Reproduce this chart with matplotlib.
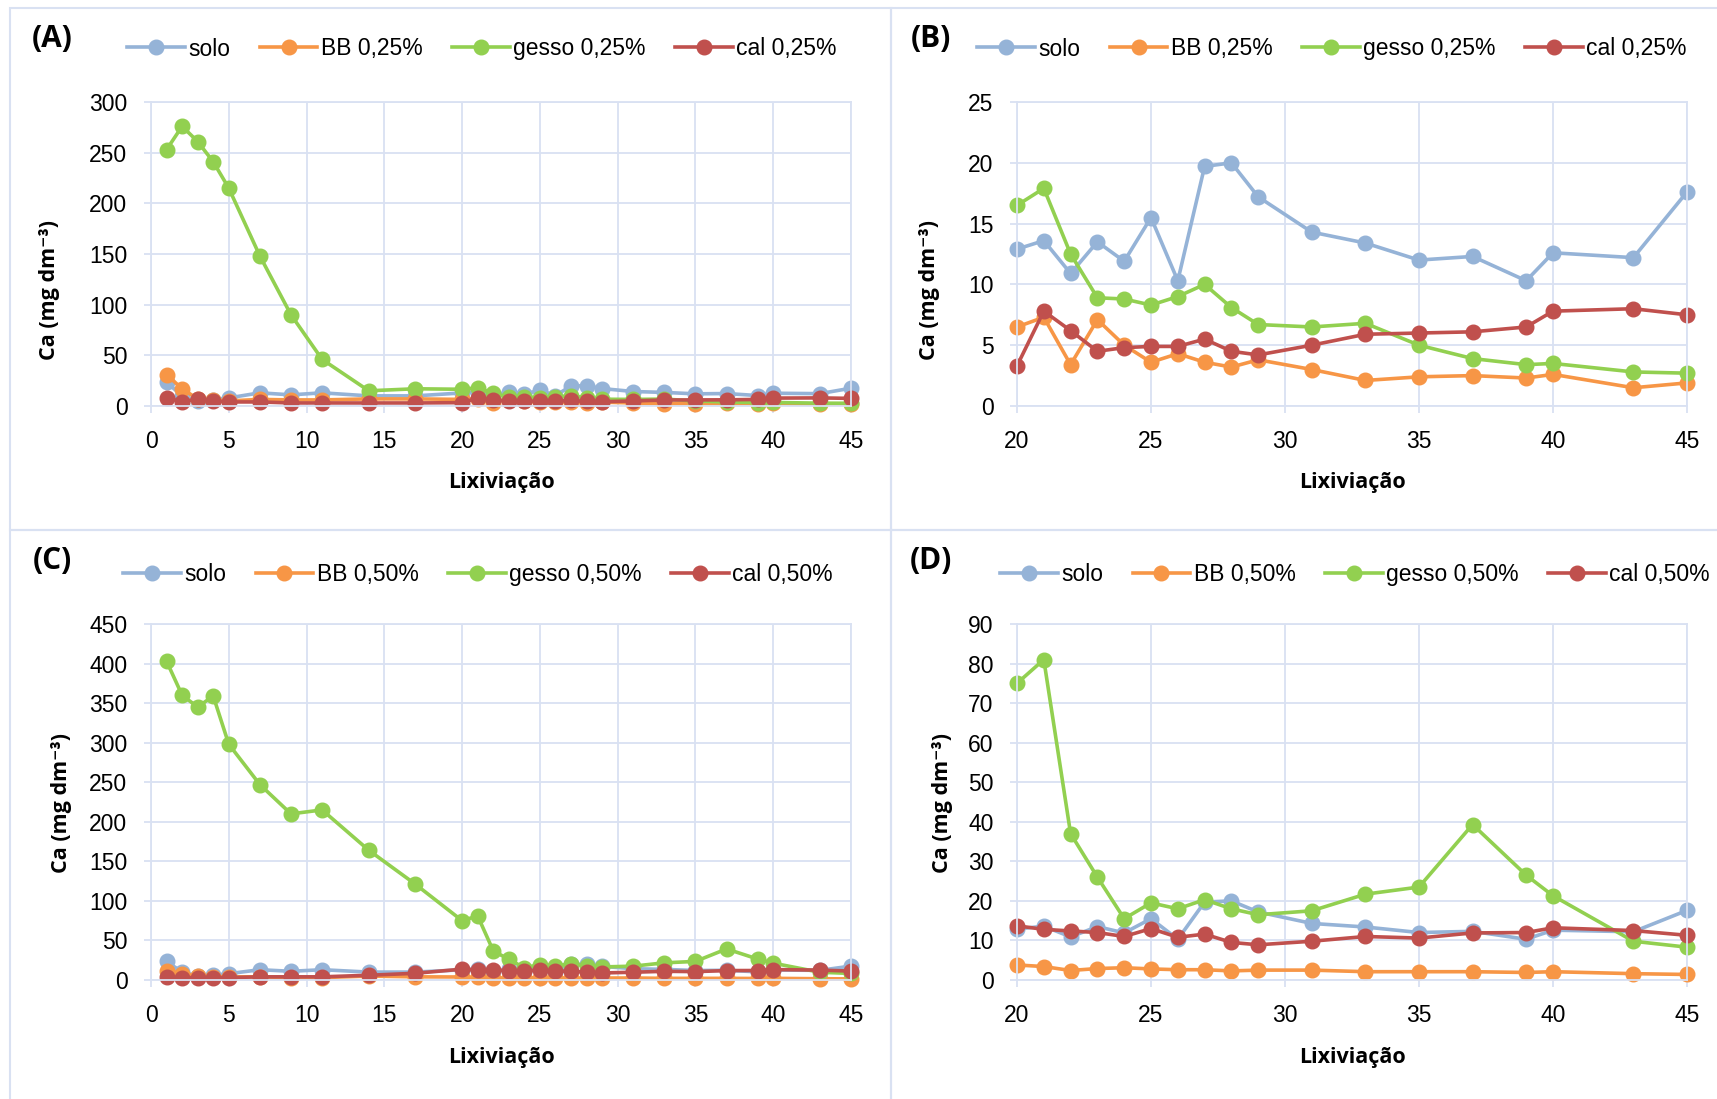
import matplotlib
matplotlib.use("Agg")
import matplotlib.pyplot as plt
from matplotlib import font_manager
from matplotlib.patches import Rectangle

# leaching events
lix = [1, 2, 3, 4, 5, 7, 9, 11, 14, 17, 20, 21, 22, 23, 24, 25, 26, 27, 28, 29,
       31, 33, 35, 37, 39, 40, 43, 45]

solo = [23.5, 10, 5, 6, 8, 13, 11, 13, 10, 10, 12.9, 13.6, 10.9, 13.5, 11.9, 15.5,
        10.3, 19.7, 20.0, 17.2, 14.3, 13.4, 12.0, 12.3, 10.3, 12.6, 12.2, 17.6]

# 0,25 %
bb_25 = [31, 17, 7, 6, 5, 6.5, 6, 6, 7, 7, 6.5, 7.3, 3.4, 7.1, 5.0, 3.6, 4.3, 3.6,
         3.2, 3.8, 3.0, 2.1, 2.4, 2.5, 2.3, 2.6, 1.5, 1.9]
gesso_25 = [253, 276, 261, 241, 215, 148, 90, 46, 15, 17, 16.5, 17.9, 12.5, 8.9, 8.8,
            8.3, 9.0, 10.0, 8.1, 6.7, 6.5, 6.8, 5.0, 3.9, 3.4, 3.5, 2.8, 2.7]
cal_25 = [8.2, 4, 7, 5, 4, 4, 3, 3, 3, 3, 3.3, 7.8, 6.2, 4.5, 4.8, 4.9, 4.9, 5.5,
          4.5, 4.2, 5.0, 5.9, 6.0, 6.1, 6.5, 7.8, 8.0, 7.5]

# 0,50 %
bb_50 = [12, 8, 5, 4, 4, 4, 3, 3, 5, 4, 3.8, 3.4, 2.4, 2.9, 3.1, 2.8, 2.6, 2.6,
         2.3, 2.5, 2.5, 2.1, 2.1, 2.1, 1.9, 2.1, 1.6, 1.4]
gesso_50 = [403, 360, 345, 359, 298, 247, 210, 215, 164, 121, 75, 81, 37, 26, 15.5,
            19.5, 18, 20.3, 18, 16.5, 17.5, 21.7, 23.5, 39.3, 26.5, 21.3, 9.8, 8.3]
cal_50 = [3.5, 3, 3, 3, 3, 4, 4, 4, 6, 8.5, 13.7, 12.8, 12.4, 12, 11, 13, 10.8, 11.6,
          9.5, 8.9, 9.8, 11, 10.6, 11.9, 12, 13.2, 12.5, 11.3]

colors = ['#95B3D7', '#F79646', '#92D050', '#C0504D']
grid_c = '#D9E1F2'

names = [f.name for f in font_manager.fontManager.ttflist]
tick_font = 'Liberation Sans Narrow' if 'Liberation Sans Narrow' in names else 'Liberation Sans'
bold_font = ['Open Sans', 'DejaVu Sans']

W, H = 1717, 1099
fig = plt.figure(figsize=(W / 100, H / 100), dpi=100)


def fx(px):
    return px / W


def fy(py):
    return 1 - py / H


# panel frames
for (x0, y0, x1, y1) in [(10, 8, 891, 530), (891, 8, 1725, 530),
                         (10, 530, 891, 1110), (891, 530, 1725, 1110)]:
    fig.patches.append(Rectangle((fx(x0), fy(y1)), fx(x1 - x0), (y1 - y0) / H,
                                 transform=fig.transFigure, fill=False,
                                 edgecolor=grid_c, linewidth=1.5))

panels = [
    # label, left, top, right, bottom, x0, ymax, ystep, start, pct, data
    ('(A)', 151, 102, 851, 406, 0, 300, 50, 0, '0,25%', (bb_25, gesso_25, cal_25)),
    ('(B)', 1017, 102, 1687, 406, 20, 25, 5, 10, '0,25%', (bb_25, gesso_25, cal_25)),
    ('(C)', 151, 624, 851, 980, 0, 450, 50, 0, '0,50%', (bb_50, gesso_50, cal_50)),
    ('(D)', 1017, 624, 1687, 980, 20, 90, 10, 10, '0,50%', (bb_50, gesso_50, cal_50)),
]

for lab, l, t, r, b, x0, ymax, ystep, start, pct, (bb, ge, ca) in panels:
    ax = fig.add_axes([fx(l), fy(b), fx(r - l), (b - t) / H])
    series = [('solo', solo), ('BB ' + pct, bb), ('gesso ' + pct, ge), ('cal ' + pct, ca)]
    for (name, vals), c in zip(series, colors):
        ax.plot(lix[start:], vals[start:], color=c, lw=2.6, marker='o', ms=10.5,
                label=name, clip_on=False)
    ax.set_xlim(x0, 45)
    ax.set_ylim(0, ymax)
    ax.set_xticks(range(x0, 46, 5))
    ax.set_yticks(range(0, ymax + 1, ystep))
    ax.grid(True, color=grid_c, lw=1.3)
    ax.set_axisbelow(True)
    for s in ax.spines.values():
        s.set_color(grid_c)
        s.set_linewidth(1.3)
    ax.tick_params(length=5, width=1.3, color=grid_c, pad=12, labelsize=16.5,
                   labelcolor='black')
    for tl in ax.get_xticklabels() + ax.get_yticklabels():
        tl.set_fontfamily(tick_font)

    cx = (l + r) / 2
    lx = 52 if l < 500 else 931
    ly = 39 if t < 500 else 561
    fig.text(fx(lx), fy(ly), lab, ha='center', va='center', fontsize=21.5,
             fontweight='bold', family=bold_font)
    fig.text(fx(cx), fy(482 if t < 500 else 1057), 'Lixiviação', ha='center',
             va='center', fontsize=15.5, fontweight='bold', family=bold_font)
    yl_x = (49 if l < 500 else 929) if t < 500 else (62 if l < 500 else 942)
    yl_y = 290 if t < 500 else 803
    fig.text(fx(yl_x), fy(yl_y), 'Ca (mg dm⁻³)', ha='center', va='center',
             rotation=90, fontsize=15.5, fontweight='bold', family=bold_font)

    leg_x = {(True, True): 482, (False, True): 1332,
             (True, False): 478, (False, False): 1355}[(l < 500, t < 500)]
    leg = ax.legend(loc='center', bbox_to_anchor=(fx(leg_x), fy(49 if t < 500 else 575)),
                    bbox_transform=fig.transFigure, ncol=4, frameon=False,
                    handlelength=2.5, handletextpad=0.15, columnspacing=1.3,
                    prop={'family': tick_font, 'size': 16.5})

fig.savefig('out.png', dpi=100)
